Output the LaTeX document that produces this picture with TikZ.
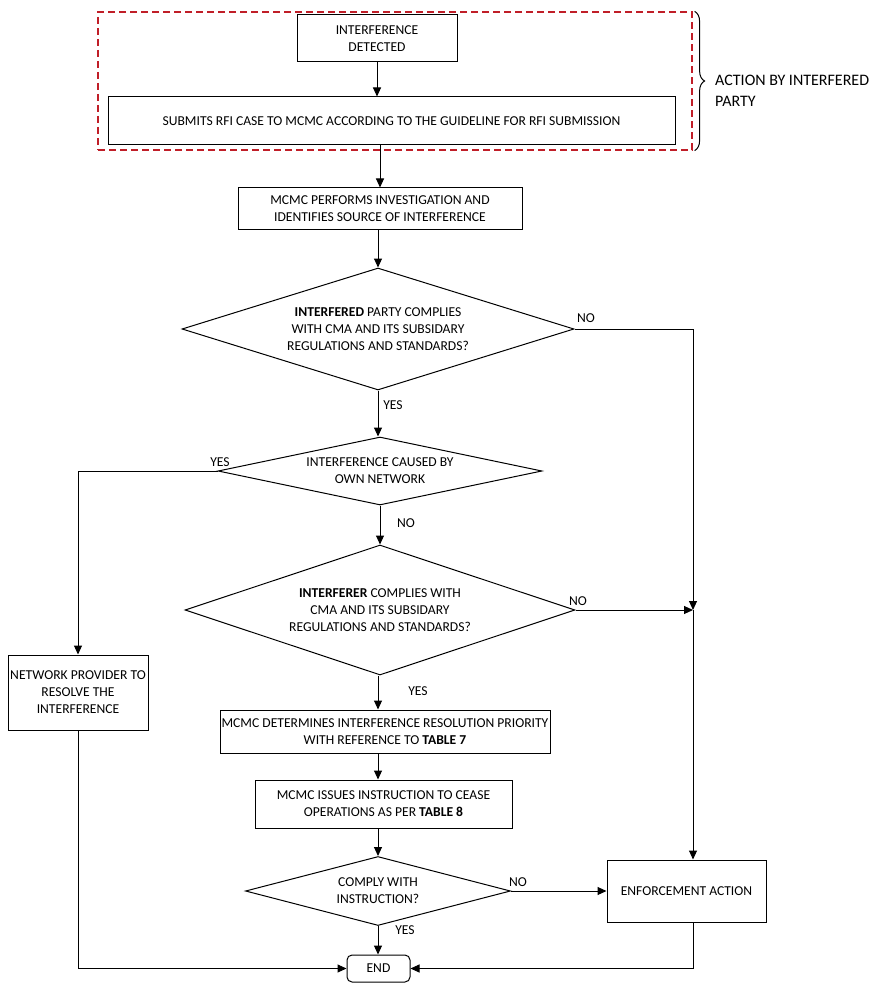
\documentclass[tikz,border=0pt]{standalone}
\usepackage{fontspec}
\setmainfont{Carlito}
\usetikzlibrary{shapes.geometric,arrows.meta,decorations.pathreplacing}
\definecolor{partyred}{RGB}{192,30,40}
\begin{document}
\begin{tikzpicture}[
    x=1pt, y=-1pt,
    every node/.style={font=\fontsize{13.6}{17}\selectfont},
    box/.style={rectangle, draw, line width=1pt, inner sep=1pt, align=center},
    decision/.style={diamond, draw, line width=1pt, inner sep=0pt, align=center},
    lbl/.style={inner sep=0pt},
    arrow/.style={->, >={Triangle[length=9pt,width=8pt]}, line width=1pt}
]
    \useasboundingbox (0,0) rectangle (884,992);

    % area of the interfered party
    \node[draw=partyred, dashed, dash pattern=on 7pt off 4pt, line width=1.2pt,
          minimum width=594pt, minimum height=138pt] (party) at (395,81) {};
    \draw[line width=1pt, decorate, decoration={brace, amplitude=10pt}]
        ([xshift=2pt]party.north east) -- ([xshift=2pt]party.south east);
    \node[lbl, align=left, anchor=west, font=\fontsize{16}{21}\selectfont] (action) at (715,91)
        {ACTION BY INTERFERED\\PARTY};

    \node[box, minimum width=160pt, minimum height=47pt] (detected) at (377,38.5) {INTERFERENCE\\DETECTED};
    \node[box, minimum width=567pt, minimum height=48pt] (submit) at (391.5,121)
        {SUBMITS RFI CASE TO MCMC ACCORDING TO THE GUIDELINE FOR RFI SUBMISSION};
    \node[box, minimum width=284pt, minimum height=42pt] (perform) at (380,209)
        {MCMC PERFORMS INVESTIGATION AND\\IDENTIFIES SOURCE OF INTERFERENCE};
    \node[decision, aspect=3.2, minimum width=392pt, minimum height=122pt] (partyok) at (378,329)
        {\textbf{INTERFERED} PARTY COMPLIES\\WITH CMA AND ITS SUBSIDARY\\REGULATIONS AND STANDARDS?};
    \node[decision, aspect=4.7, minimum width=324pt, minimum height=68pt] (own) at (380,471)
        {INTERFERENCE CAUSED BY\\OWN NETWORK};
    \node[decision, aspect=3, minimum width=390pt, minimum height=130pt] (interferer) at (380,610)
        {\textbf{INTERFERER} COMPLIES WITH\\CMA AND ITS SUBSIDARY\\REGULATIONS AND STANDARDS?};
    \node[box, minimum width=140pt, minimum height=75pt] (network) at (78,692.5)
        {NETWORK PROVIDER TO\\RESOLVE THE\\INTERFERENCE};
    \node[box, minimum width=330pt, minimum height=43pt] (priority) at (385,731.5)
        {MCMC DETERMINES INTERFERENCE RESOLUTION PRIORITY\\WITH REFERENCE TO \textbf{TABLE 7}};
    \node[box, minimum width=257pt, minimum height=48pt] (cease) at (383.5,804)
        {MCMC ISSUES INSTRUCTION TO CEASE\\OPERATIONS AS PER \textbf{TABLE 8}};
    \node[decision, aspect=3.8, minimum width=265pt, minimum height=69pt] (comply) at (378,891)
        {COMPLY WITH\\INSTRUCTION?};
    \node[box, minimum width=159pt, minimum height=62pt] (enforce) at (686.5,891) {ENFORCEMENT ACTION};
    \node[box, rounded corners=5pt, minimum width=63pt, minimum height=27pt] (end) at (378.5,968.5) {END};

    \coordinate (join) at (693,610);

    \draw[arrow] (detected.south) -- (detected.south |- submit.north);
    \draw[arrow] (perform.south |- submit.south) -- (perform.north);
    \draw[arrow] (perform.south -| partyok.north) -- (partyok.north);
    \draw[arrow] (partyok.south) -- (partyok.south |- own.north);
    \draw[arrow] (partyok.east) -| (join);
    \draw[arrow] (own.south -| interferer.north) -- (interferer.north);
    \draw[arrow] (own.west) -| (network.north);
    \draw[arrow] (interferer.east) -- (join);
    \draw[arrow] (join) -- (join |- enforce.north);
    \draw[arrow] (interferer.south -| partyok.south) -- (partyok.south |- priority.north);
    \draw[arrow] (partyok.south |- priority.south) -- (partyok.south |- cease.north);
    \draw[arrow] (partyok.south |- cease.south) -- (comply.north);
    \draw[arrow] (comply.east) -- (enforce.west);
    \draw[arrow] (comply.south) -- (end.north -| comply.south);
    \draw[arrow] (network.south) |- (end.west);
    \draw[arrow] (join |- enforce.south) |- (end.east);

    % branch labels
    \node[lbl] (no1) at (586,318) {NO};
    \node[lbl] (yes1) at (393,405) {YES};
    \node[lbl] (yes2) at (220,462) {YES};
    \node[lbl] (no2) at (406,523) {NO};
    \node[lbl] (no3) at (578,601) {NO};
    \node[lbl] (yes3) at (418,691) {YES};
    \node[lbl] (no4) at (518,882) {NO};
    \node[lbl] (yes4) at (405,930) {YES};
\end{tikzpicture}
\end{document}
